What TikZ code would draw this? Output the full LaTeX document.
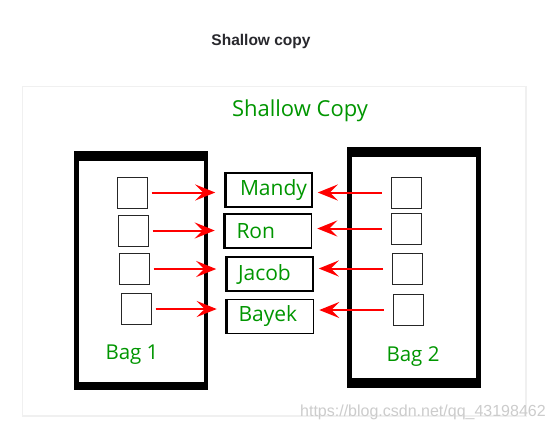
\documentclass[tikz,border=0pt]{standalone}
\usepackage{fontspec}
\setmainfont{Open Sans}
\newfontfamily\titlefont{Liberation Sans}
\usetikzlibrary{arrows.meta}
\definecolor{grn}{RGB}{0,150,0}
\definecolor{ttl}{RGB}{40,40,45}
\tikzset{
  sq/.style={draw=black!85, line width=1pt, minimum width=30pt, minimum height=31pt, inner sep=0pt},
  namebox/.style={draw=black, line width=1.5pt, minimum width=86pt, minimum height=34pt, text width=64pt, inner xsep=11pt, inner ysep=0pt, align=left, text=grn, font=\fontsize{21}{23}\selectfont},
  arr/.style={draw=red, line width=2pt, -{Stealth[length=20pt,width=16pt,inset=8pt]}},
  greentext/.style={text=grn, inner sep=0pt}
}
\begin{document}
\begin{tikzpicture}[x=1pt,y=-1pt]
\useasboundingbox (0,0) rectangle (553,434);
\fill[white] (0,0) rectangle (553,434);
% title
\node[inner sep=0pt, text=ttl, font=\titlefont\bfseries\fontsize{15.5}{17}\selectfont] (title) at (261,41) {Shallow copy};
% card
\fill[black!6] (22,86) rectangle (527,417);
\fill[white] (23,87) rectangle (525,415);
\node[greentext, font=\fontsize{22}{24}\selectfont] (sc) at (300,111) {Shallow Copy};
% bags
\fill[black] (74,151) rectangle (208,390);
\fill[white] (79,161) rectangle (204,382);
\fill[black] (347,147) rectangle (481,388);
\fill[white] (352,157) rectangle (476,378);
\node[greentext, font=\fontsize{20.5}{22}\selectfont] (bag1) at (132,355) {Bag 1};
\node[greentext, font=\fontsize{20.5}{22}\selectfont] (bag2) at (413,357) {Bag 2};
% left squares
\node[sq] (l1) at (132,192.5) {};
\node[sq] (l2) at (133,230.5) {};
\node[sq] (l3) at (134,269) {};
\node[sq] (l4) at (136,309) {};
% right squares
\node[sq] (r1) at (406,192.5) {};
\node[sq] (r2) at (406.5,228.5) {};
\node[sq] (r3) at (407.5,268.5) {};
\node[sq] (r4) at (408,310) {};
% name boxes
\node[namebox] (m1) at (269,190) {\hspace*{3pt}Mandy};
\node[namebox] (m2) at (268.5,231) {Ron};
\node[namebox] (m3) at (270,274) {Jacob};
\node[namebox] (m4) at (270.5,316.5) {Bayek};
\foreach \n in {m1,m2,m3,m4}{\draw[line width=3pt] (\n.north west) -- (\n.south west);}
% arrows
\foreach \i in {1,2,3,4}{
  \draw[arr, shorten <=4pt, shorten >=10pt] (l\i.east) -- (m\i.west |- l\i.east);
  \draw[arr, shorten <=9pt, shorten >=5pt] (r\i.west) -- (m\i.east |- r\i.west);
}
% watermark
\node[inner sep=0pt, anchor=west, text=black!20, font=\titlefont\fontsize{16}{18}\selectfont] (wm) at (300,412) {https://blog.csdn.net/qq\_43198462};
\end{tikzpicture}
\end{document}
